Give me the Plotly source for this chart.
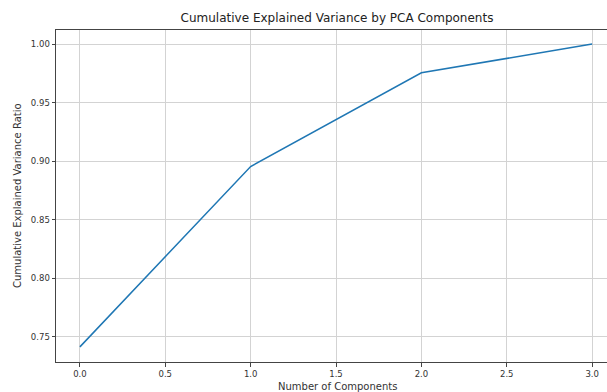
import plotly.graph_objects as go

components = [0, 1, 2, 3]
cumulative_variance = [0.7415, 0.8955, 0.9755, 1.0]
x_ticks = [0.0, 0.5, 1.0, 1.5, 2.0, 2.5, 3.0]
x_tick_labels = ["0.0", "0.5", "1.0", "1.5", "2.0", "2.5", "3.0"]
y_ticks = [0.75, 0.80, 0.85, 0.90, 0.95, 1.00]
y_tick_labels = ["0.75", "0.80", "0.85", "0.90", "0.95", "1.00"]

font_family = "DejaVu Sans"

fig = go.Figure()
fig.add_trace(go.Scatter(
    x=components, y=cumulative_variance, mode="lines",
    line=dict(color="#1f77b4", width=1.5), showlegend=False,
))

fig.update_layout(
    width=607, height=392,
    margin=dict(l=56, r=0, t=30, b=30),
    paper_bgcolor="white", plot_bgcolor="white",
    font=dict(family=font_family, size=8.5, color="#222222"),
    title=dict(text="Cumulative Explained Variance by PCA Components",
               x=(337) / 607, xanchor="center", y=1 - 18 / 392, yanchor="middle",
               font=dict(family=font_family, size=12, color="#222222")),
    xaxis=dict(range=[-0.14, 3.087], tickvals=x_ticks, ticktext=x_tick_labels,
               showgrid=True, gridcolor="#d3d3d3", gridwidth=1,
               showline=True, linecolor="#444444", linewidth=1, mirror=True,
               ticks="outside", ticklen=3.5, tickcolor="#444444",
               zeroline=False, tickfont=dict(size=8.5, color="#333333")),
    yaxis=dict(range=[0.7286, 1.012], tickvals=y_ticks, ticktext=y_tick_labels,
               showgrid=True, gridcolor="#d3d3d3", gridwidth=1,
               showline=True, linecolor="#444444", linewidth=1,
               ticks="outside", ticklen=3.5, tickcolor="#444444",
               zeroline=False, tickfont=dict(size=8.5, color="#333333")),
    annotations=[
        dict(text="Number of Components", xref="paper", yref="paper",
             x=(337 - 56) / 551, y=0, yshift=-24, xanchor="center", yanchor="middle",
             showarrow=False, font=dict(family=font_family, size=10, color="#333333")),
        dict(text="Cumulative Explained Variance Ratio", xref="paper", yref="paper",
             x=0, xshift=-39, y=0.5, xanchor="center", yanchor="middle", textangle=-90,
             showarrow=False, font=dict(family=font_family, size=10, color="#333333")),
    ],
)

fig.write_html("out.html", config={"displayModeBar": False},
               post_script="document.body.style.margin='0';document.body.style.overflow='hidden';")
